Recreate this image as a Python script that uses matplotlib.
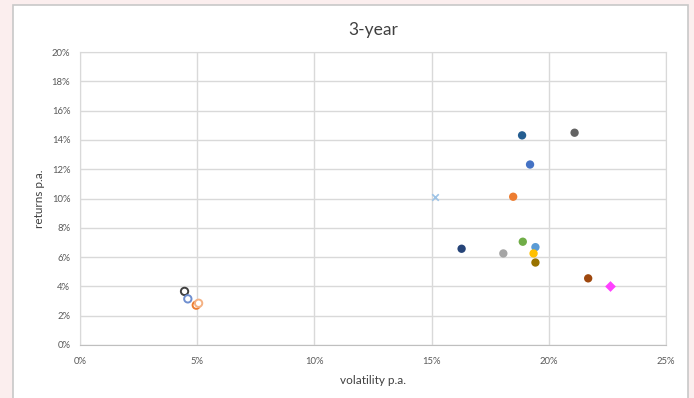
import matplotlib.pyplot as plt
from matplotlib.patches import Rectangle
from matplotlib.ticker import PercentFormatter

plt.rcParams['font.family'] = ['Lato', 'DejaVu Sans']

# volatility / return in percent
vol = [18.86, 21.10, 19.20, 18.48, 18.89, 19.43, 19.35, 19.43, 21.68, 16.28, 18.06]
ret = [14.31, 14.49, 12.32, 10.12, 7.05, 6.68, 6.25, 5.63, 4.55, 6.57, 6.25]
colors = ['#255E91', '#636363', '#4472C4', '#ED7D31', '#70AD47', '#5B9BD5',
          '#FFC000', '#997300', '#9E480E', '#264478', '#A5A5A5']

open_vol = [4.46, 4.60, 4.96, 5.06]
open_ret = [3.66, 3.15, 2.72, 2.85]
open_colors = ['#404040', '#6F8FD0', '#ED7D31', '#F4B183']

x_vol, x_ret = [15.13], [10.08]
d_vol, d_ret = [22.60], [4.05]

fig = plt.figure(figsize=(6.94, 3.98), dpi=100)
fig.patch.set_facecolor('#FBEEEE')
# white chart panel
fig.patches.append(Rectangle((13 / 694, -0.01), 675 / 694, 1 - 5 / 398 + 0.01,
                             transform=fig.transFigure, facecolor='white',
                             edgecolor='#C8C8C8', linewidth=1.2, zorder=-5))

ax = fig.add_axes([80 / 694, 1 - 345 / 398, 586 / 694, 293 / 398])
ax.set_facecolor('white')

ax.scatter(vol, ret, s=36, c=colors, zorder=3, linewidths=0)
ax.scatter(open_vol, open_ret, s=28, facecolors='white', edgecolors=open_colors,
           linewidths=1.4, zorder=3)
ax.scatter(x_vol, x_ret, s=22, marker='x', c='#9DC3E6', linewidths=1.2, zorder=3)
ax.scatter(d_vol, d_ret, s=30, marker='D', c='#FF40FF', linewidths=0, zorder=3)

ax.set_xlim(0, 25)
ax.set_ylim(0, 20)
ax.set_xticks(range(0, 26, 5))
ax.set_yticks(range(0, 21, 2))
ax.xaxis.set_major_formatter(PercentFormatter(decimals=0))
ax.yaxis.set_major_formatter(PercentFormatter(decimals=0))
ax.tick_params(length=0, labelsize=6.8, labelcolor='#595959', pad=9)
ax.tick_params(axis='y', pad=7)
ax.grid(True, color='#D9D9D9', linewidth=1)
ax.set_axisbelow(True)
for side in ['top', 'right', 'left']:
    ax.spines[side].set_color('#D9D9D9')
ax.spines['bottom'].set_color('#BFBFBF')

ax.set_title('3-year', fontsize=12.5, color='#404040', pad=12)
ax.set_xlabel('volatility p.a.', fontsize=8.5, color='#404040', labelpad=6)
ax.set_ylabel('returns p.a.', fontsize=8.5, color='#404040', labelpad=5)

fig.savefig('out.png', dpi=100, facecolor=fig.get_facecolor())
